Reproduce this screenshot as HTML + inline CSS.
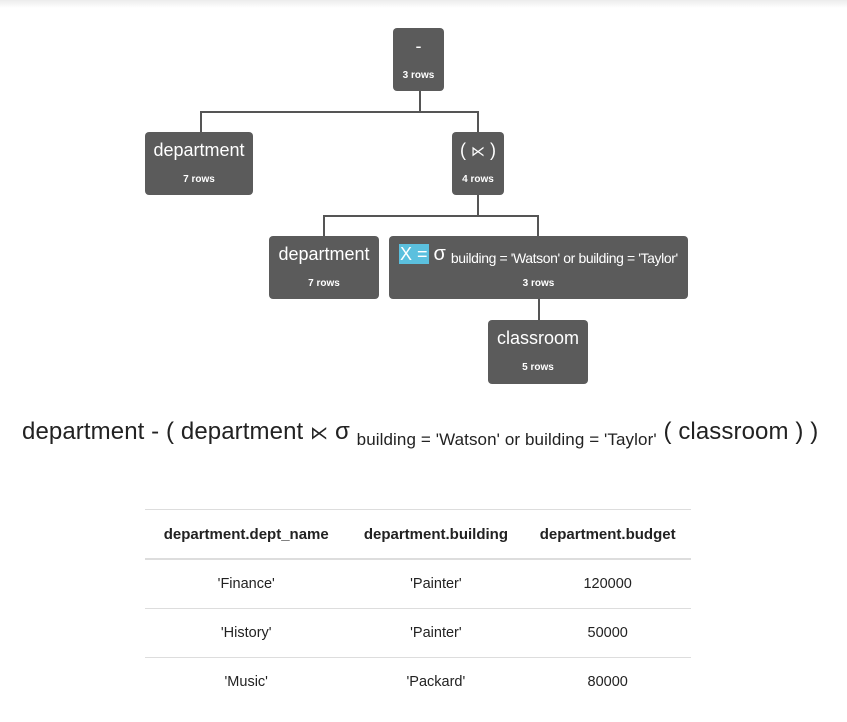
<!DOCTYPE html>
<html><head><meta charset="utf-8"><style>
body{margin:0;width:847px;height:722px;background:#fff;font-family:"Liberation Sans",Arial,sans-serif;position:relative;overflow:hidden;color:#222}
.shadow{position:absolute;left:0;top:0;width:847px;height:8px;background:linear-gradient(#ececec,#fff)}
.b{position:absolute;background:#5b5b5b;border-radius:4px;color:#fff;text-align:center}
.b .t{position:absolute;left:0;right:0;top:7px;font-size:18px;line-height:22px;white-space:nowrap}
.b .r{position:absolute;left:0;right:0;top:42px;font-size:10px;font-weight:bold;line-height:12px}
.l{position:absolute;background:#555}
.expr{position:absolute;left:22px;top:418px;font-size:24px;white-space:nowrap;color:#222;letter-spacing:0.1px}
.expr sub{font-size:17px;vertical-align:-6px}
table{position:absolute;left:145px;top:509px;width:546px;border-collapse:collapse;font-size:14.5px}
th,td{text-align:center;height:48px;padding:0}
th{border-top:1px solid #ddd;border-bottom:2px solid #ddd;font-weight:bold;font-size:15px}
td{border-bottom:1px solid #ddd}
tr:last-child td{border-bottom:none}
</style></head><body>
<div class="shadow"></div>
<div class="l" style="left:419px;top:91px;width:2px;height:21px"></div>
<div class="l" style="left:201px;top:111px;width:278px;height:2px"></div>
<div class="l" style="left:200px;top:111px;width:2px;height:21px"></div>
<div class="l" style="left:477px;top:111px;width:2px;height:21px"></div>
<div class="l" style="left:477px;top:195px;width:2px;height:21px"></div>
<div class="l" style="left:324px;top:215px;width:215px;height:2px"></div>
<div class="l" style="left:323px;top:215px;width:2px;height:21px"></div>
<div class="l" style="left:537px;top:215px;width:2px;height:21px"></div>
<div class="l" style="left:538px;top:299px;width:2px;height:21px"></div>
<div class="b" style="left:393px;top:28px;width:51px;height:63px"><div class="t">-</div><div class="r">3 rows</div></div>
<div class="b" style="left:145px;top:132px;width:108px;height:63px"><div class="t">department</div><div class="r">7 rows</div></div>
<div class="b" style="left:452px;top:132px;width:52px;height:63px"><div class="t">( <span style="font-size:14px">⋉</span> )</div><div class="r">4 rows</div></div>
<div class="b" style="left:269px;top:236px;width:110px;height:63px"><div class="t">department</div><div class="r">7 rows</div></div>
<div class="b" style="left:389px;top:236px;width:299px;height:63px"><div class="t" style="left:10px;text-align:left"><span style="background:#5bc0de;padding:0 1px">X =</span> <span style="font-size:20px">σ</span> <span style="font-size:14px;letter-spacing:-0.4px;position:relative;top:3px">building = 'Watson' or building = 'Taylor'</span></div><div class="r">3 rows</div></div>
<div class="b" style="left:488px;top:320px;width:100px;height:64px"><div class="t">classroom</div><div class="r">5 rows</div></div>
<div class="expr">department - ( department <span style="font-size:18px">⋉</span> σ <sub>building = 'Watson' or building = 'Taylor'</sub> ( classroom ) )</div>
<table>
<tr><th>department.dept_name</th><th>department.building</th><th>department.budget</th></tr>
<tr><td>'Finance'</td><td>'Painter'</td><td>120000</td></tr>
<tr><td>'History'</td><td>'Painter'</td><td>50000</td></tr>
<tr><td>'Music'</td><td>'Packard'</td><td>80000</td></tr>
</table>
</body></html>
